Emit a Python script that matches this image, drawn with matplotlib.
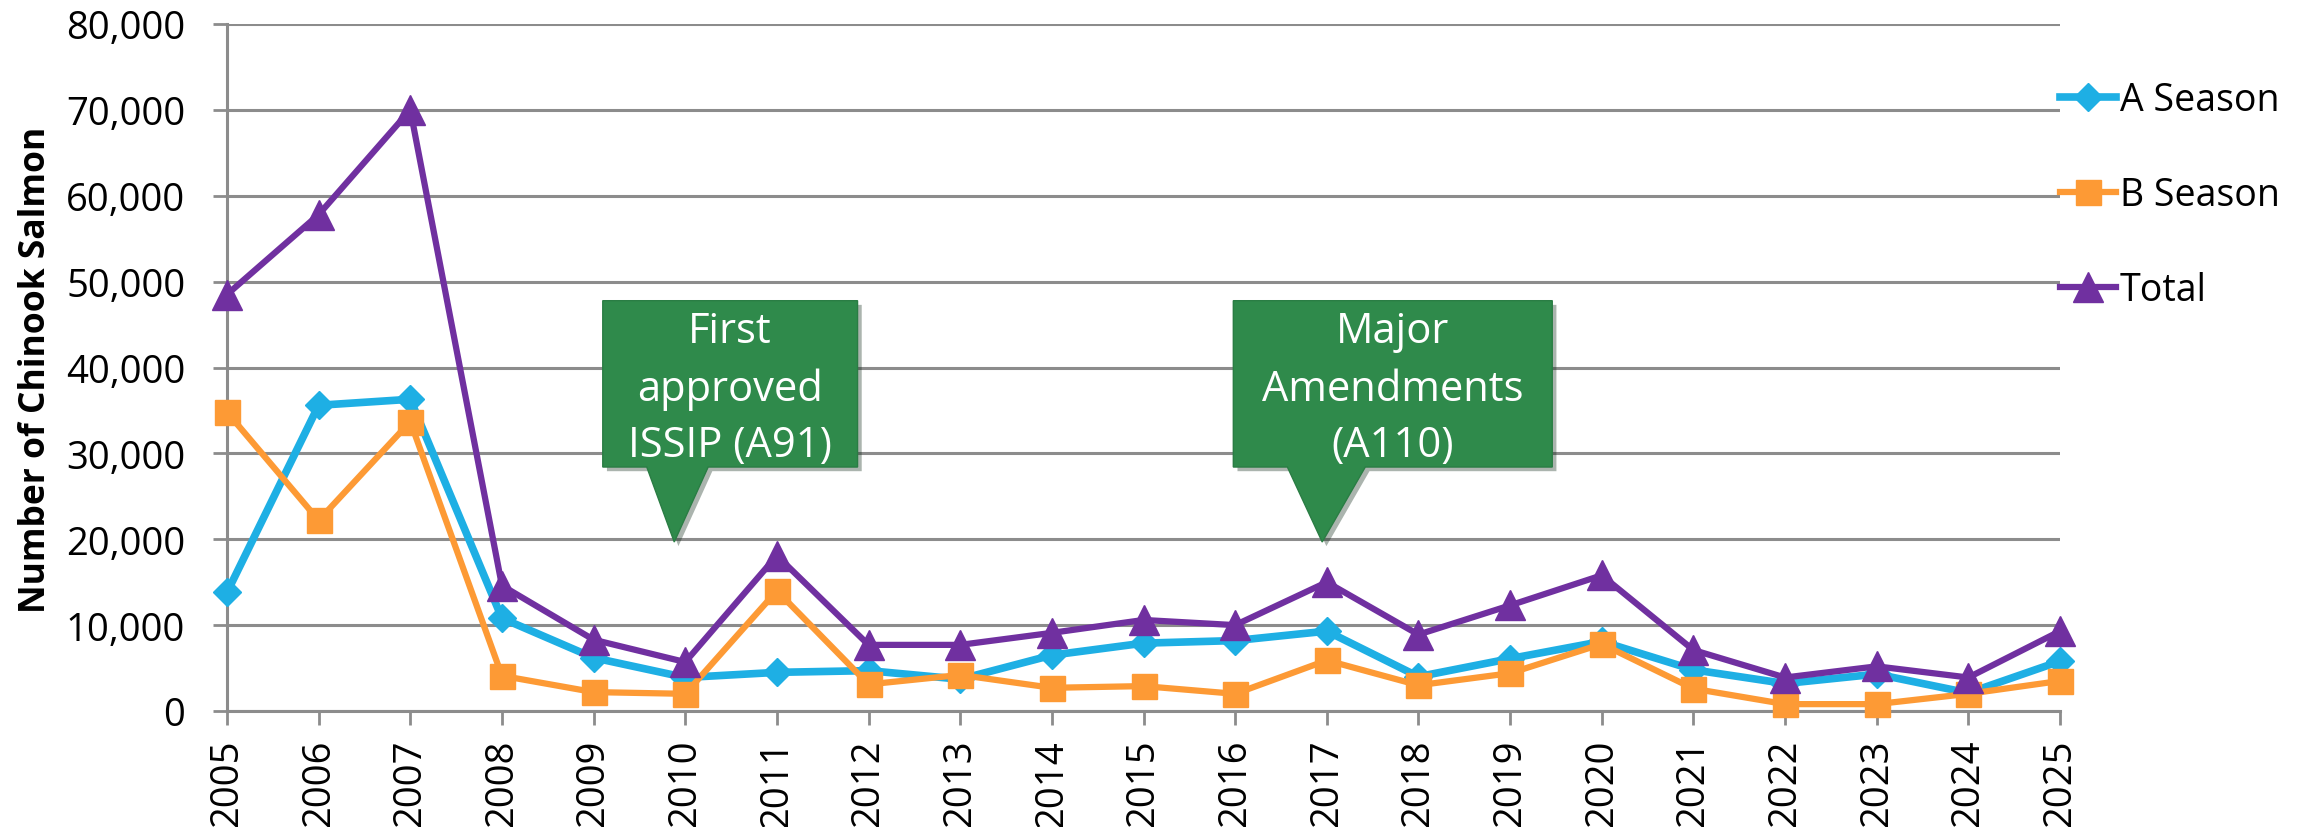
import matplotlib
matplotlib.use("Agg")
import matplotlib.pyplot as plt
import matplotlib.patheffects as pe
from matplotlib.patches import Polygon
from matplotlib.ticker import FuncFormatter, MultipleLocator

plt.rcParams['font.family'] = ['Open Sans', 'DejaVu Sans']

years = list(range(2005, 2026))
a_season = [13800, 35600, 36300, 10800, 6200, 3900, 4500, 4700, 3700, 6500, 7900,
            8200, 9300, 4000, 6100, 8100, 4800, 3200, 4300, 2100, 5800]
b_season = [34800, 22200, 33700, 4100, 2200, 2000, 14000, 3100, 4200, 2700, 2900,
            2000, 5900, 3000, 4400, 7800, 2600, 800, 800, 2000, 3500]
total = [48500, 57800, 70000, 14600, 8300, 5700, 18100, 7700, 7700, 9100, 10600,
         10000, 15000, 8900, 12300, 15800, 7100, 3900, 5200, 3900, 9300]
series_names = ['A Season', 'B Season', 'Total']

grid_col = '#8c8c8c'
green = '#2f8a4b'

fig = plt.figure(figsize=(23.1, 8.28), dpi=100)
ax = fig.add_axes([227 / 2310, 116 / 828, 1833 / 2310, 687 / 828])

ax.plot(years, a_season, color='#1eafe4', lw=5.5, marker='D', ms=14,
        label=series_names[0], clip_on=False, zorder=3)
ax.plot(years, b_season, color='#fd9a35', lw=4.5, marker='s', ms=18,
        label=series_names[1], clip_on=False, zorder=4)
ax.plot(years, total, color='#7030a0', lw=4.5, marker='^', ms=21,
        label=series_names[2], clip_on=False, zorder=5)

ax.set_xlim(2005, 2025)
ax.set_ylim(0, 80000)
ax.set_xticks(years)
ax.set_xticklabels([str(y) for y in years], rotation=90)
ax.yaxis.set_major_locator(MultipleLocator(10000))
ax.yaxis.set_major_formatter(FuncFormatter(lambda v, p: f'{v:,.0f}'))
ax.grid(axis='y', color=grid_col, lw=2.2, zorder=0)
ax.set_axisbelow(True)
for s in ['top', 'right']:
    ax.spines[s].set_visible(False)
for s in ['left', 'bottom']:
    ax.spines[s].set_color(grid_col)
    ax.spines[s].set_linewidth(2.2)
ax.tick_params(axis='y', length=10, width=2, color=grid_col, pad=20, labelsize=27.5)
ax.tick_params(axis='x', length=10, width=2, color=grid_col, pad=10, labelsize=27.5)

fig.text(36 / 2310, 1 - 370 / 828, 'Number of Chinook Salmon', rotation=90,
         ha='center', va='center', fontsize=25.5, fontweight='bold')

ax.legend(loc='center left', bbox_to_anchor=(2060 / 2310, 1 - 196 / 828),
          bbox_transform=fig.transFigure, frameon=False, fontsize=27,
          borderpad=0, borderaxespad=0, handlelength=1.5, handletextpad=0.1,
          labelspacing=1.52)


# callouts (rectangle with a pointer at the bottom)
def callout(x0, x1, base_l, base_r, tip_x, lines):
    top, bot, tip_y = 47780, 28410, 19680
    pts = [(x0, top), (x1, top), (x1, bot), (base_r, bot), (tip_x, tip_y),
           (base_l, bot), (x0, bot)]
    poly = Polygon(pts, closed=True, facecolor=green, edgecolor='#2a7d44', lw=1,
                   zorder=6, path_effects=[pe.SimplePatchShadow(offset=(3, -3), alpha=0.35),
                                           pe.Normal()])
    ax.add_patch(poly)
    cx = (x0 + x1) / 2
    for txt, y in zip(lines, [42970, 36220, 29690]):
        ax.text(cx, y, txt, ha='center', va='baseline', color='white',
                fontsize=30, zorder=7)


callout(2009.10, 2011.88, 2009.58, 2010.25, 2009.88,
        ['First', 'approved', 'ISSIP (A91)'])
callout(2015.98, 2019.46, 2016.57, 2017.42, 2016.95,
        ['Major', 'Amendments', '(A110)'])

fig.savefig('out.png', dpi=100)
